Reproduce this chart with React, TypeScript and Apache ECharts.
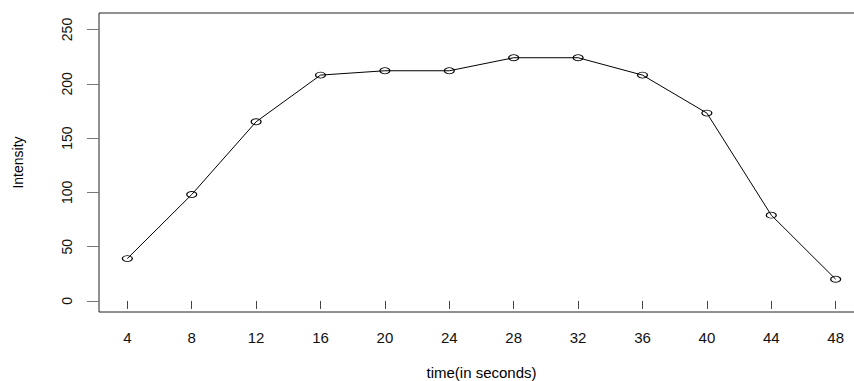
import React, { useEffect, useRef } from "react";
import * as echarts from "echarts";

const times = [4, 8, 12, 16, 20, 24, 28, 32, 36, 40, 44, 48];
const intensity = [39, 98, 165, 208, 212, 212, 224, 224, 208, 173, 79, 20];
const xTicks = [4, 8, 12, 16, 20, 24, 28, 32, 36, 40, 44, 48];
const yTicks = [0, 50, 100, 150, 200, 250];

export default function App() {
  const ref = useRef<HTMLDivElement>(null);
  useEffect(() => {
    if (!ref.current) return;
    const chart = echarts.init(ref.current, null, { renderer: "svg" });
    const font = "'Liberation Sans', Arial, Helvetica, sans-serif";
    chart.setOption({
      animation: false,
      backgroundColor: "#ffffff",
      grid: {
        left: 99,
        width: 765,
        top: 13,
        height: 299,
        outerBoundsMode: "none",
        containLabel: false,
        show: true,
        borderColor: "#222",
        borderWidth: 1,
        backgroundColor: "transparent",
      },
      xAxis: {
        type: "value",
        min: 2.24,
        max: 49.76,
        name: "time(in seconds)",
        nameLocation: "middle",
        nameGap: 53,
        nameTextStyle: { fontFamily: font, fontSize: 15, color: "#000" },
        axisLine: { show: false },
        splitLine: { show: false },
        axisTick: {
          show: true,
          length: 8,
          customValues: xTicks,
          lineStyle: { color: "#444", width: 1 },
        },
        axisLabel: {
          customValues: xTicks,
          margin: 18,
          fontFamily: font,
          fontSize: 15,
          color: "#111",
        },
      },
      yAxis: {
        type: "value",
        min: -10.2,
        max: 265.2,
        name: "Intensity",
        nameLocation: "middle",
        nameGap: 74,
        nameRotate: 90,
        nameTextStyle: { fontFamily: font, fontSize: 14, color: "#000" },
        axisLine: { show: false },
        splitLine: { show: false },
        axisTick: {
          show: true,
          length: 12,
          customValues: yTicks,
          lineStyle: { color: "#777", width: 1 },
        },
        axisLabel: {
          customValues: yTicks,
          rotate: 90,
          margin: 25,
          fontFamily: font,
          fontSize: 14,
          color: "#111",
        },
      },
      series: [
        {
          type: "line",
          data: times.map((t, i) => [t, intensity[i]]),
          symbol: "circle",
          symbolSize: [10, 6],
          showSymbol: true,
          lineStyle: { color: "#000", width: 1 },
          itemStyle: {
            color: "rgba(0,0,0,0)",
            borderColor: "#000",
            borderWidth: 1,
          },
          emphasis: { disabled: true },
          z: 3,
        },
      ],
    });
    return () => chart.dispose();
  }, []);
  return (
    <div
      ref={ref}
      style={{ position: "absolute", left: 0, top: 0, width: 854, height: 381, overflow: "hidden" }}
    />
  );
}
